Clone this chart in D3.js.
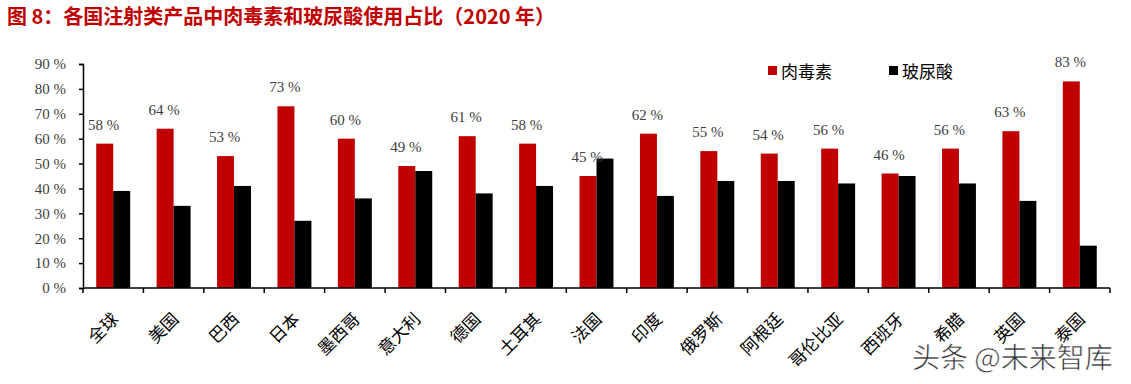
<!DOCTYPE html>
<html>
<head>
<meta charset="utf-8">
<script src="https://cdn.jsdelivr.net/npm/d3@7"></script>
<style>
  body { margin: 0; background: #fff; }
  svg { display: block; }
</style>
</head>
<body>
<main></main>
<script>
// data
var countries = ['全球', '美国', '巴西', '日本', '墨西哥', '意大利', '德国', '土耳其', '法国', '印度', '俄罗斯', '阿根廷', '哥伦比亚', '西班牙', '希腊', '英国', '泰国'];
var botox = [58, 64, 53, 73, 60, 49, 61, 58, 45, 62, 55, 54, 56, 46, 56, 63, 83];
var hyaluronic = [39, 33, 41, 27, 36, 47, 38, 41, 52, 37, 43, 43, 42, 45, 42, 35, 17];
var seriesNames = ['肉毒素', '玻尿酸'];
var yTicks = [0, 10, 20, 30, 40, 50, 60, 70, 80, 90];

var W = 1131, H = 384;
var mLeft = 83, mRight = 1110, mTop = 64, mBottom = 288;
var colors = ['#c00000', '#000000'];

var svg = d3.select('main').append('svg')
    .attr('width', W)
    .attr('height', H);

// title
svg.append('text')
    .attr('x', 7)
    .attr('y', 24)
    .attr('fill', '#c00000')
    .attr('font-family', 'Noto Sans CJK SC, sans-serif')
    .attr('font-weight', 'bold')
    .attr('font-size', 20)
    .text('图 8：各国注射类产品中肉毒素和玻尿酸使用占比（2020 年）');

var x = d3.scaleBand()
    .domain(countries)
    .range([mLeft, mRight])
    .paddingInner(0)
    .paddingOuter(0);

var x1 = d3.scaleBand()
    .domain([0, 1])
    .range([0, x.bandwidth()])
    .paddingInner(0)
    .paddingOuter(0.78);

var y = d3.scaleLinear()
    .domain([0, 90])
    .range([mBottom, mTop]);

// bars
var rows = countries.map((c, i) => ({ c: c, v: [botox[i], hyaluronic[i]] }));

var groups = svg.selectAll('.grp')
    .data(rows)
    .enter().append('g')
    .attr('transform', d => 'translate(' + x(d.c) + ',0)');

groups.selectAll('rect')
    .data(d => d.v.map((v, k) => ({ k: k, v: v })))
    .enter().append('rect')
    .attr('x', d => x1(d.k))
    .attr('y', d => y(d.v))
    .attr('width', x1.bandwidth())
    .attr('height', d => mBottom - y(d.v))
    .attr('fill', d => colors[d.k]);

// data labels on the botox bars
groups.append('text')
    .attr('x', x1(0) + x1.bandwidth() / 2 - 1)
    .attr('y', d => y(d.v[0]) - 14)
    .attr('text-anchor', 'middle')
    .attr('font-family', 'Liberation Serif, serif')
    .attr('font-size', 15)
    .attr('fill', '#404040')
    .text(d => d.v[0] + ' %');

// y axis
var yAxis = svg.append('g')
    .attr('transform', 'translate(' + mLeft + ',0)')
    .call(d3.axisLeft(y).tickValues(yTicks).tickSize(4).tickPadding(13).tickFormat(d => d + ' %'));
yAxis.select('.domain').attr('stroke', '#000').attr('stroke-width', 1.5);
yAxis.selectAll('.tick line').attr('stroke', '#000').attr('stroke-width', 1.5);
yAxis.selectAll('.tick text')
    .attr('font-family', 'Liberation Serif, serif')
    .attr('font-size', 15)
    .attr('fill', '#404040');

// x axis with ticks at category boundaries
var xAxisG = svg.append('g');
xAxisG.append('line')
    .attr('x1', mLeft).attr('x2', mRight)
    .attr('y1', mBottom).attr('y2', mBottom)
    .attr('stroke', '#000').attr('stroke-width', 1.5);
xAxisG.selectAll('.xt')
    .data(countries.concat(['end']))
    .enter().append('line')
    .attr('x1', (d, i) => mLeft + i * x.step())
    .attr('x2', (d, i) => mLeft + i * x.step())
    .attr('y1', mBottom)
    .attr('y2', mBottom + 5)
    .attr('stroke', '#000').attr('stroke-width', 1.5);

xAxisG.selectAll('.xl')
    .data(countries)
    .enter().append('text')
    .attr('transform', d => 'translate(' + (x(d) + x.bandwidth() / 2 + 2) + ',' + (mBottom + 28) + ') rotate(-45)')
    .attr('text-anchor', 'end')
    .attr('dy', '0.35em')
    .attr('font-family', 'Noto Sans CJK SC, sans-serif')
    .attr('font-size', 17)
    .attr('fill', '#000')
    .text(d => d);

// legend
var legend = svg.append('g');
var legendX = [768, 889];
seriesNames.forEach((n, k) => {
    legend.append('rect')
        .attr('x', legendX[k]).attr('y', 66)
        .attr('width', 9).attr('height', 9)
        .attr('fill', colors[k]);
    legend.append('text')
        .attr('x', legendX[k] + 13).attr('y', 78)
        .attr('font-family', 'Noto Sans CJK SC, sans-serif')
        .attr('font-size', 17)
        .attr('fill', '#000')
        .text(n);
});

// watermark
svg.append('text')
    .attr('x', 912)
    .attr('y', 368)
    .attr('font-family', 'Noto Sans CJK SC, sans-serif')
    .attr('font-size', 28)
    .attr('fill', '#333')
    .attr('stroke', '#fff')
    .attr('stroke-width', 0.6)
    .text('头条 @未来智库');
</script>
</body>
</html>
